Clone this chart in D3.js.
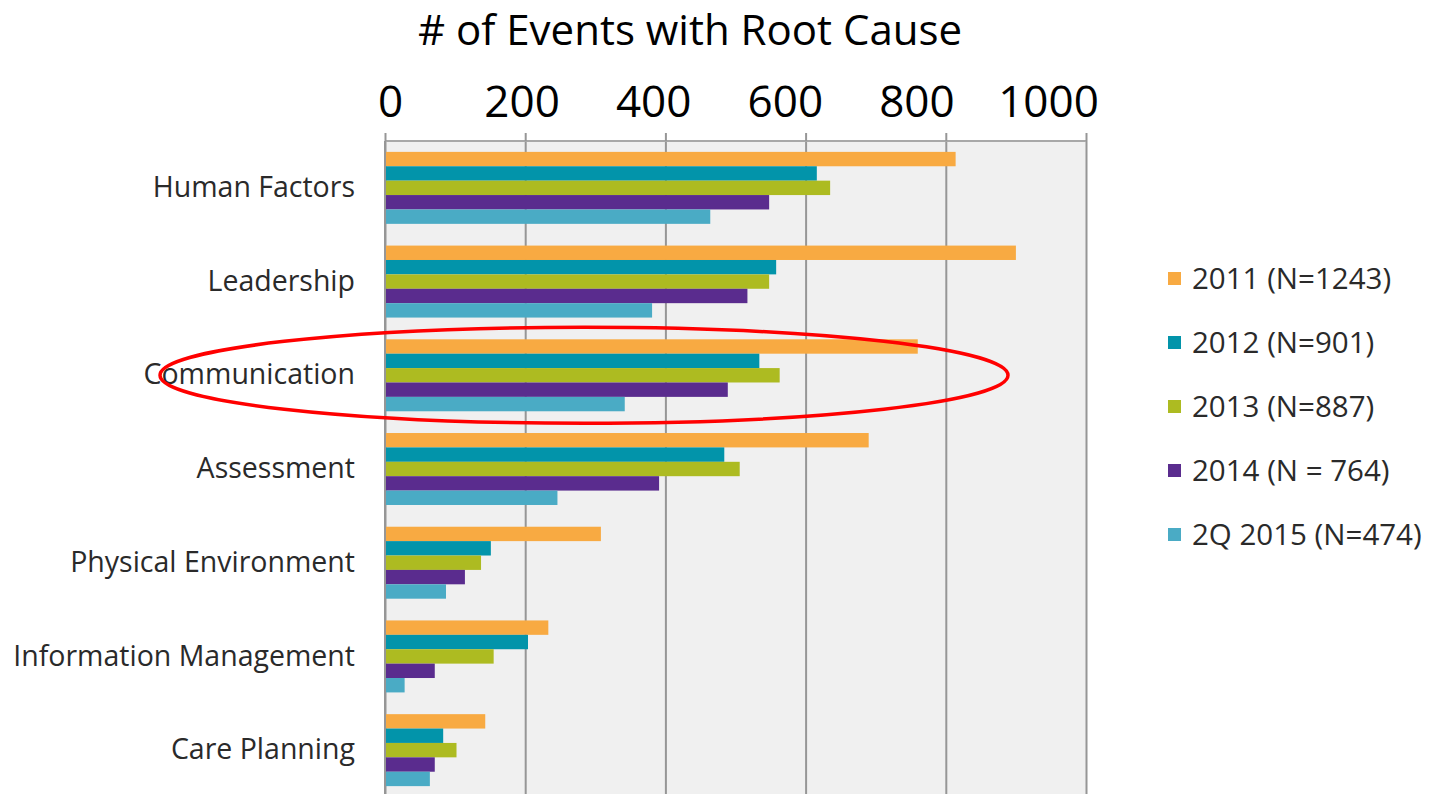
<!DOCTYPE html>
<html>
<head>
<meta charset="utf-8">
<script src="https://cdn.jsdelivr.net/npm/d3@7"></script>
<style>
  html, body { margin: 0; padding: 0; background: #fff; }
  svg { display: block; }
  text { font-family: "Open Sans", "Noto Sans", sans-serif; }
</style>
</head>
<body>
<svg id="chart" width="1429" height="794"></svg>
<script>
// Root-cause categories, top to bottom
const categories = [
  "Human Factors",
  "Leadership",
  "Communication",
  "Assessment",
  "Physical Environment",
  "Information Management",
  "Care Planning"
];

// Series (one per reporting period)
const seriesNames = ["2011 (N=1243)", "2012 (N=901)", "2013 (N=887)", "2014 (N = 764)", "2Q 2015 (N=474)"];
const seriesColors = ["#f8aa42", "#0294aa", "#adbb21", "#5a2c8e", "#4aabc5"];

// Number of events per category, one array per series
const values2011 = [814, 900, 760, 690, 308, 233, 143];
const values2012 = [616, 558, 534, 484, 151, 204, 83];
const values2013 = [635, 548, 563, 506, 137, 155, 102];
const values2014 = [548, 517, 489, 391, 114, 71, 71];
const values2015 = [464, 381, 342, 246, 87, 28, 64];
const seriesValues = [values2011, values2012, values2013, values2014, values2015];

const xTicks = [0, 200, 400, 600, 800, 1000];
const titleText = "# of Events with Root Cause";
const highlighted = "Communication";

const svg = d3.select("#chart");

// Plot frame
const plotLeft = 385, plotRight = 1086, plotTop = 141, plotBottom = 797;

const x = d3.scaleLinear().domain([0, 1000]).range([plotLeft, plotRight]);
const y = d3.scaleBand().domain(categories).range([plotTop, plotBottom])
  .paddingInner(0.232).paddingOuter(0.116);
const ySub = d3.scaleBand().domain(seriesNames).range([0, y.bandwidth()]);

// Plot background
svg.append("rect")
  .attr("x", x(0)).attr("y", plotTop)
  .attr("width", x(1000) - x(0)).attr("height", plotBottom - plotTop)
  .attr("fill", "#f0f0f0");

// Vertical gridlines
const grid = svg.append("g")
  .attr("transform", `translate(0,${plotTop})`)
  .call(d3.axisTop(x).tickValues(xTicks).tickSize(-(plotBottom - plotTop)).tickFormat(""));
grid.select(".domain").remove();
grid.selectAll(".tick line").attr("stroke", "#969696").attr("stroke-width", 2);

// Top frame line with small tick stubs
svg.append("line")
  .attr("x1", x(0)).attr("x2", x(1000))
  .attr("y1", plotTop).attr("y2", plotTop)
  .attr("stroke", "#a8a8a8").attr("stroke-width", 2);
const stubs = svg.append("g")
  .attr("transform", `translate(0,${plotTop})`)
  .call(d3.axisTop(x).tickValues(xTicks).tickSize(8).tickFormat(""));
stubs.select(".domain").remove();
stubs.selectAll(".tick line").attr("stroke", "#969696").attr("stroke-width", 2);

// Bars
const groups = svg.append("g").selectAll("g")
  .data(categories)
  .join("g")
  .attr("transform", d => `translate(0,${y(d)})`);

groups.selectAll("rect")
  .data((cat, ci) => seriesNames.map((s, si) => ({ s, si, v: seriesValues[si][ci] })))
  .join("rect")
  .attr("x", x(0) + 1)
  .attr("y", d => ySub(d.s))
  .attr("width", d => x(d.v) - x(0) - 1)
  .attr("height", ySub.bandwidth())
  .attr("fill", d => seriesColors[d.si]);

// Left axis line
svg.append("line")
  .attr("x1", x(0)).attr("x2", x(0))
  .attr("y1", plotTop).attr("y2", plotBottom)
  .attr("stroke", "#969696").attr("stroke-width", 2);

// Category labels
const yAxis = svg.append("g")
  .attr("transform", `translate(${x(0) - 30},0)`)
  .call(d3.axisLeft(y).tickSize(0).tickPadding(0));
yAxis.select(".domain").remove();
yAxis.selectAll("text")
  .attr("font-size", 28.5)
  .attr("fill", "#2a2a2a")
  .attr("font-family", "'Open Sans', sans-serif");

// Value labels along the top
const xLabel = d3.scaleLinear().domain([0, 1000]).range([390, 1048]);
const xAxis = svg.append("g")
  .attr("transform", "translate(0,117)")
  .call(d3.axisTop(xLabel).tickValues(xTicks).tickSize(0).tickPadding(0).tickFormat(d3.format("d")));
xAxis.select(".domain").remove();
xAxis.selectAll("text")
  .attr("font-size", 44)
  .attr("fill", "#000")
  .attr("font-family", "'Open Sans', sans-serif");

// Title
svg.append("text")
  .attr("x", 690).attr("y", 45)
  .attr("text-anchor", "middle")
  .attr("font-size", 42)
  .attr("fill", "#000")
  .text(titleText);

// Legend
const legend = svg.append("g").attr("transform", "translate(1168,279)");
const legendRows = legend.selectAll("g")
  .data(seriesNames)
  .join("g")
  .attr("transform", (d, i) => `translate(0,${i * 64})`);
legendRows.append("rect")
  .attr("x", 0).attr("y", -7).attr("width", 13).attr("height", 13)
  .attr("fill", (d, i) => seriesColors[i]);
legendRows.append("text")
  .attr("x", 24).attr("y", 0).attr("dy", "0.35em")
  .attr("font-size", 29.5)
  .attr("fill", "#2a2a2a")
  .text(d => d);

// Highlight ring around one category
const hc = y(highlighted) + y.bandwidth() / 2;
svg.append("ellipse")
  .attr("cx", 584).attr("cy", hc)
  .attr("rx", 424).attr("ry", 48)
  .attr("fill", "none")
  .attr("stroke", "#ff0000")
  .attr("stroke-width", 3.5);
</script>
</body>
</html>
